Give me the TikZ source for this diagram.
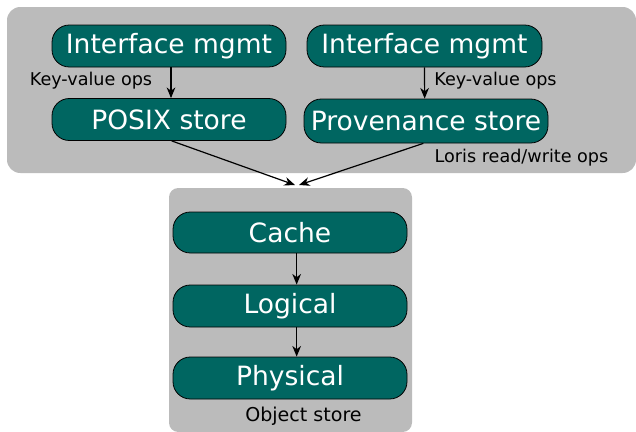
\documentclass[tikz,border=0pt]{standalone}
\usepackage{fontspec}
\setmainfont{DejaVu Sans}
\usetikzlibrary{shapes,arrows,arrows.meta}

\definecolor{boxteal}{RGB}{0,102,97}
\definecolor{panelgray}{RGB}{187,187,187}

\begin{document}
\begin{tikzpicture}[x=0.75pt, y=-0.75pt,
  every node/.style={inner sep=0pt},
  panel/.style={fill=panelgray, rounded corners=10pt},
  layer/.style={draw=black, line width=0.6pt, fill=boxteal, text=white, rounded corners=13pt,
    minimum width=175.5pt, minimum height=31.5pt, font=\fontsize{19.9}{24}\selectfont},
  lbl/.style={font=\fontsize{13.2}{16}\selectfont},
  flow/.style={-{Stealth[length=8pt, width=6.5pt, inset=2.5pt]}, line width=0.9pt}]
  \useasboundingbox (0,0) rectangle (636,432);

  % Panels
  \node[panel, minimum width=471.75pt, minimum height=124.5pt] (client) at (321.5,90) {};
  \node[panel, rounded corners=7pt, minimum width=182.25pt, minimum height=183pt] (objstore) at (290.5,310) {};

  % Client side
  \node[layer] (mgmt1) at (169,46) {Interface mgmt};
  \node[layer] (posix) at (169,119.5) {POSIX store};
  \node[layer, minimum width=176.25pt] (mgmt2) at (424.5,46) {Interface mgmt};
  \node[layer, minimum width=183pt, minimum height=33pt] (prov) at (426,121) {Provenance store};

  \node[lbl] (kv1) at (91,81) {Key-value ops};
  \node[lbl] (kv2) at (495.5,81) {Key-value ops};
  \node[lbl] (loris) at (521.5,158) {Loris read/write ops};

  % Object store
  \node[layer, minimum height=30.75pt] (cache) at (290,232.5) {Cache};
  \node[layer] (logical) at (290,306) {Logical};
  \node[layer] (physical) at (290,378) {Physical};
  \node[lbl, font=\fontsize{14.3}{17}\selectfont] (objlabel) at (303.5,416) {Object store};

  \coordinate (inleft) at (295,185);
  \coordinate (inright) at (299,185);

  % Arrows
  \draw[flow] ([xshift=1.5pt]mgmt1.south) -- ([xshift=1.5pt]posix.north);
  \draw[flow] (mgmt2.south) -- ([xshift=-1pt]prov.north);
  \draw[flow] ([xshift=2pt]posix.south) -- (inleft);
  \draw[flow] ([xshift=-2pt]prov.south) -- (inright);
  \draw[flow] ([xshift=5pt]cache.south) -- ([xshift=5pt]logical.north);
  \draw[flow] ([xshift=5pt]logical.south) -- ([xshift=5pt]physical.north);
\end{tikzpicture}
\end{document}
